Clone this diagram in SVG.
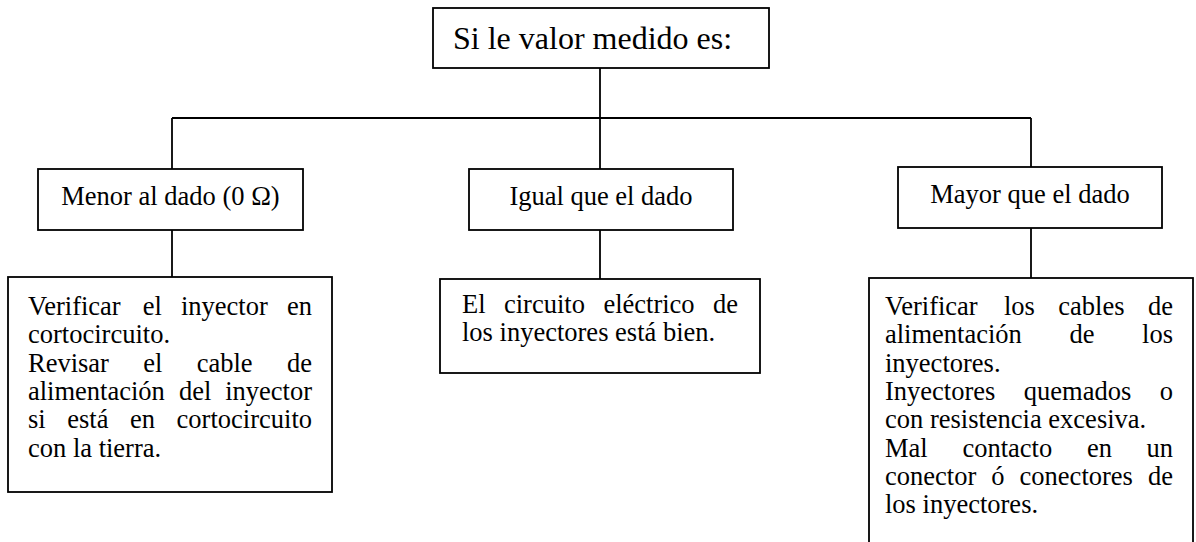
<svg xmlns="http://www.w3.org/2000/svg" width="1196" height="542" viewBox="0 0 1196 542">
<style>
.box{fill:#fff;stroke:#000;stroke-width:1.8}
.ln{fill:none;stroke:#000;stroke-width:1.8}
text{font-family:"Liberation Serif","Times New Roman",serif;fill:#000}
.t{font-size:26.5px}
.h{font-size:32px}
.e{text-anchor:end}
.m{text-anchor:middle}
</style>
<rect width="1196" height="542" fill="#fff"/>
<g id="connectors">
<line class="ln" x1="600" y1="68" x2="600" y2="118"/>
<line class="ln" x1="172" y1="118" x2="1031" y2="118"/>
<line class="ln" x1="172" y1="118" x2="172" y2="169"/>
<line class="ln" x1="600" y1="118" x2="600" y2="169"/>
<line class="ln" x1="1031" y1="118" x2="1031" y2="167"/>
<line class="ln" x1="172" y1="230" x2="172" y2="277"/>
<line class="ln" x1="600" y1="230" x2="600" y2="279"/>
<line class="ln" x1="1031" y1="228" x2="1031" y2="278"/>
</g>
<g id="root">
<rect class="box" x="433" y="8" width="336" height="60"/>
<text class="h" x="453" y="49">Si le valor medido es:</text>
</g>
<g id="menor">
<rect class="box" x="38" y="169" width="265" height="61"/>
<text class="t m" x="170.5" y="205">Menor al dado (0 Ω)</text>
</g>
<g id="igual">
<rect class="box" x="469" y="169" width="264" height="61"/>
<text class="t m" x="601" y="205">Igual que el dado</text>
</g>
<g id="mayor">
<rect class="box" x="898" y="167" width="264" height="61"/>
<text class="t m" x="1030" y="203">Mayor que el dado</text>
</g>
<g id="menor-detalle">
<rect class="box" x="8" y="277" width="324" height="215"/>
<text class="t" y="315"><tspan x="28">Verificar</tspan><tspan x="142.7">el</tspan><tspan x="180.9">inyector</tspan></text>
<text class="t e" x="312" y="315">en</text>
<text class="t" x="28" y="343.3">cortocircuito.</text>
<text class="t" y="371.6"><tspan x="28">Revisar</tspan><tspan x="143.3">el</tspan><tspan x="196.7">cable</tspan></text>
<text class="t e" x="312" y="371.6">de</text>
<text class="t" y="400"><tspan x="28">alimentación</tspan><tspan x="178.9">del</tspan></text>
<text class="t e" x="312" y="400">inyector</text>
<text class="t" y="428.3"><tspan x="28">si</tspan><tspan x="67.3">está</tspan><tspan x="130.1">en</tspan></text>
<text class="t e" x="312" y="428.3">cortocircuito</text>
<text class="t" x="28" y="456.6">con la tierra.</text>
</g>
<g id="igual-detalle">
<rect class="box" x="440" y="279" width="320" height="94"/>
<text class="t" y="313"><tspan x="462">El</tspan><tspan x="504">circuito</tspan><tspan x="603.4">eléctrico</tspan></text>
<text class="t e" x="738" y="313">de</text>
<text class="t" x="462" y="341.3">los inyectores está bien.</text>
</g>
<g id="mayor-detalle">
<rect class="box" x="869" y="278" width="324" height="280"/>
<text class="t" y="315"><tspan x="885">Verificar</tspan><tspan x="1004">los</tspan><tspan x="1058.3">cables</tspan></text>
<text class="t e" x="1173" y="315">de</text>
<text class="t" y="343.3"><tspan x="885">alimentación</tspan><tspan x="1069.5">de</tspan></text>
<text class="t e" x="1173" y="343.3">los</text>
<text class="t" x="885" y="371.6">inyectores.</text>
<text class="t" y="400"><tspan x="885">Inyectores</tspan><tspan x="1023.8">quemados</tspan></text>
<text class="t e" x="1173" y="400">o</text>
<text class="t" x="885" y="428.3">con resistencia excesiva.</text>
<text class="t" y="456.6"><tspan x="885">Mal</tspan><tspan x="962.4">contacto</tspan><tspan x="1086.9">en</tspan></text>
<text class="t e" x="1173" y="456.6">un</text>
<text class="t" y="485"><tspan x="885">conector</tspan><tspan x="991.3">ó</tspan><tspan x="1019.6">conectores</tspan></text>
<text class="t e" x="1173" y="485">de</text>
<text class="t" x="885" y="513.3">los inyectores.</text>
</g>
</svg>
